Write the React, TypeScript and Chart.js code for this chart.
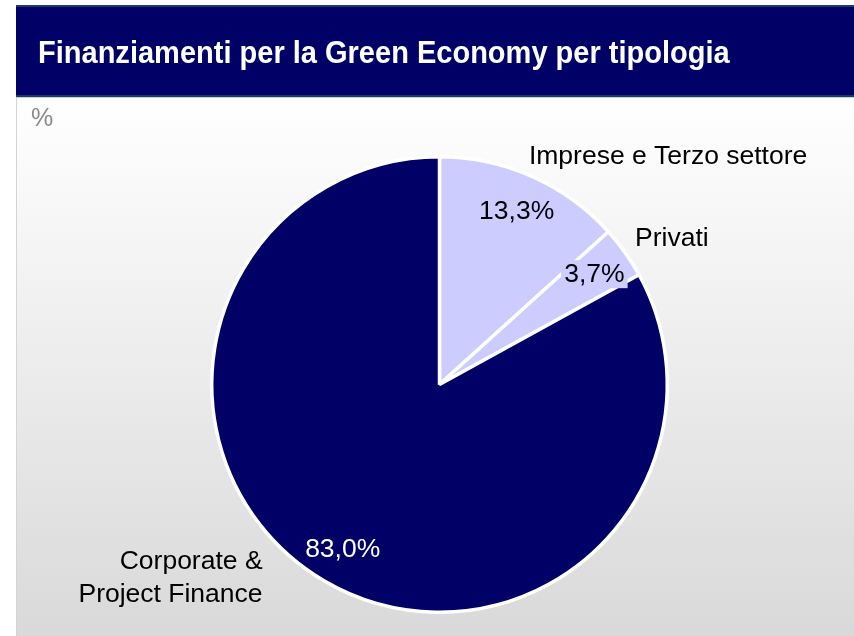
import React, { useEffect, useRef } from "react";
import { Chart, registerables } from "chart.js";

Chart.register(...registerables);

const TITLE = "Finanziamenti per la Green Economy per tipologia";
const UNIT = "%";
const categories = ["Imprese e Terzo settore", "Privati", "Corporate &\nProject Finance"];
const shares = [13.3, 3.7, 83.0];
const sliceColors = ["#CCCCFF", "#CCCCFF", "#000066"];
const valueTextColors = ["#000000", "#000000", "#FFFFFF"];

const W = 854;
const H = 636;

export default function App() {
  const ref = useRef<HTMLCanvasElement | null>(null);

  useEffect(() => {
    document.body.style.margin = "0";
    const canvas = ref.current;
    if (!canvas) return;

    const backdrop = {
      id: "backdrop",
      beforeDraw(chart: any) {
        const ctx = chart.ctx as CanvasRenderingContext2D;
        ctx.save();
        ctx.fillStyle = "#ffffff";
        ctx.fillRect(0, 0, W, H);
        // panel gradient
        const g = ctx.createLinearGradient(0, 98, 0, H);
        g.addColorStop(0, "#ffffff");
        g.addColorStop(1, "#d9d9d9");
        ctx.fillStyle = g;
        ctx.fillRect(16, 98, W - 16, H - 98);
        ctx.fillStyle = "#d4d4d4";
        ctx.fillRect(16, 98, 1, H - 98);
        // header
        ctx.fillStyle = "#000066";
        ctx.fillRect(16, 5, W - 16, 92);
        ctx.fillStyle = "#1c3a64";
        ctx.fillRect(16, 5, W - 16, 2);
        ctx.fillRect(16, 95, W - 16, 2);
        ctx.fillStyle = "#c4cdda";
        ctx.fillRect(16, 97, W - 16, 1);
        // title
        ctx.fillStyle = "#ffffff";
        ctx.font = "bold 29px 'Liberation Sans', Arial, sans-serif";
        ctx.textBaseline = "alphabetic";
        ctx.textAlign = "left";
        const tw = ctx.measureText(TITLE).width;
        const target = 692;
        const fs = 29 * target / tw;
        ctx.font = `bold ${fs.toFixed(2)}px 'Liberation Sans', Arial, sans-serif`;
        ctx.save();
        ctx.translate(38, 63);
        ctx.scale(1, 1.08);
        ctx.fillText(TITLE, 0, 0);
        ctx.restore();
        // unit
        ctx.fillStyle = "#8a8a8a";
        ctx.font = "25px 'Liberation Sans', Arial, sans-serif";
        ctx.fillText(UNIT, 31, 126);
        ctx.restore();
      },
    };

    const outerPlacement = [
      { align: "left", dx: -3, dy: -21 },
      { align: "left", dx: 10, dy: -15 },
      { align: "right", dx: -61, dy: -3 },
    ];

    const sliceLabels = {
      id: "sliceLabels",
      afterDatasetsDraw(chart: any) {
        const ctx = chart.ctx as CanvasRenderingContext2D;
        const meta = chart.getDatasetMeta(0);
        const ds = chart.data.datasets[0];
        ctx.save();
        ctx.font = "26.5px 'Liberation Sans', Arial, sans-serif";
        ctx.textBaseline = "middle";
        meta.data.forEach((arc: any, i: number) => {
          const p = arc.getProps(["x", "y", "startAngle", "endAngle", "outerRadius"], true);
          const mid = (p.startAngle + p.endAngle) / 2;
          const r = p.outerRadius;
          // value label
          const vr = r * 0.835;
          const vx = p.x + Math.cos(mid) * vr;
          const vy = p.y + Math.sin(mid) * vr;
          const txt = (ds.data[i] as number).toFixed(1).replace(".", ",") + "%";
          ctx.textAlign = "center";
          if (i === 1) {
            const w = ctx.measureText(txt).width;
            ctx.fillStyle = "#CCCCFF";
            ctx.fillRect(vx - w / 2 - 3, vy - 14, w + 6, 28);
          }
          ctx.fillStyle = valueTextColors[i];
          ctx.fillText(txt, vx, vy + 1);
          // category label
          const pl = outerPlacement[i];
          const ax = p.x + Math.cos(mid) * r + pl.dx;
          const ay = p.y + Math.sin(mid) * r + pl.dy;
          const lines = String(chart.data.labels[i]).split("\n");
          const lh = 33;
          ctx.fillStyle = "#000000";
          ctx.textAlign = pl.align as CanvasTextAlign;
          lines.forEach((ln, k) => {
            const ly = ay + (k - (lines.length - 1) / 2) * lh;
            ctx.fillText(ln, ax, ly + 1);
          });
        });
        ctx.restore();
      },
    };

    const chart = new Chart(canvas, {
      type: "pie",
      data: {
        labels: categories,
        datasets: [
          {
            data: shares,
            backgroundColor: sliceColors,
            borderColor: "#ffffff",
            borderWidth: 3.5,
          },
        ],
      },
      options: {
        responsive: false,
        animation: false,
        devicePixelRatio: 1,
        layout: { padding: { left: 210, top: 155, right: 185, bottom: 22 } },
        plugins: {
          legend: { display: false },
          tooltip: { enabled: false },
        },
      },
      plugins: [backdrop, sliceLabels],
    });
    return () => chart.destroy();
  }, []);

  return (
    <div style={{ position: "absolute", left: 0, top: 0, width: W, height: H }}>
      <canvas ref={ref} width={W} height={H} style={{ width: W, height: H, display: "block" }} />
    </div>
  );
}
